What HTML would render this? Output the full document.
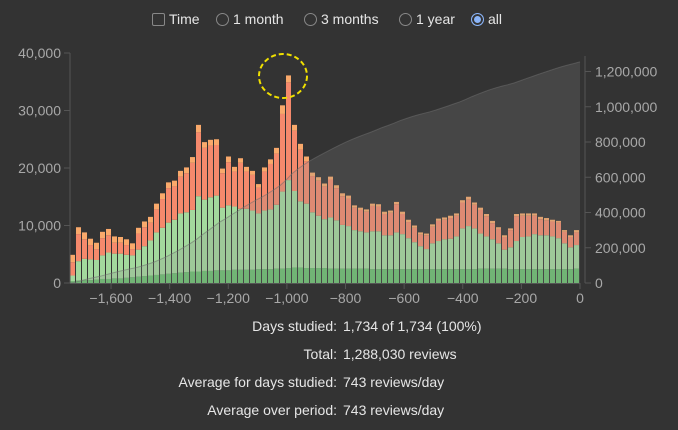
<!DOCTYPE html>
<html><head><meta charset="utf-8"><style>
body{margin:0;background:#333;width:678px;height:430px;overflow:hidden;font-family:"Liberation Sans",sans-serif;color:#e6e6e6}
.ctl{position:absolute;top:10px;font-size:14px;height:18px;line-height:18px}
.box{position:absolute;width:11px;height:11px;border:1px solid #888;border-radius:2px;top:3px}
.rad{position:absolute;width:11px;height:11px;border:1px solid #888;border-radius:50%;top:3px}
.stat{position:absolute;font-size:14px;white-space:nowrap}
</style></head><body>
<div class="ctl" style="left:152px"><span class="box" style="left:0"></span><span style="margin-left:17px">Time</span></div>
<div class="ctl" style="left:216px"><span class="rad" style="left:0"></span><span style="margin-left:17px">1 month</span></div>
<div class="ctl" style="left:304px"><span class="rad" style="left:0"></span><span style="margin-left:17px">3 months</span></div>
<div class="ctl" style="left:399px"><span class="rad" style="left:0"></span><span style="margin-left:17px">1 year</span></div>
<div class="ctl" style="left:471px"><span class="rad" style="left:0;background:#8ab4f8;border-color:#8ab4f8;box-shadow:inset 0 0 0 2px #333"></span><span style="margin-left:17px">all</span></div>
<svg id="chart" width="678" height="310" style="position:absolute;left:0;top:0"></svg>
<div>
<div class="stat" style="top:318px;right:341px">Days studied:</div><div class="stat" style="top:318px;left:343px">1,734 of 1,734 (100%)</div>
<div class="stat" style="top:346px;right:341px">Total:</div><div class="stat" style="top:346px;left:343px">1,288,030 reviews</div>
<div class="stat" style="top:374px;right:341px">Average for days studied:</div><div class="stat" style="top:374px;left:343px">743 reviews/day</div>
<div class="stat" style="top:402px;right:341px">Average over period:</div><div class="stat" style="top:402px;left:343px">743 reviews/day</div>
</div>
<script>
const totals=[4.9,9.7,8.8,7.7,7,8.9,9.4,8.1,8,7.6,6.9,9.6,10.7,11.5,13.8,15.6,17.5,17.8,19.5,20.1,21.9,27.5,24.5,24.9,25,19.9,22,20.2,21.7,20.2,19.5,17.2,20.1,21.5,23.5,30.9,36.1,27.5,24.2,22,19.2,18.4,17.3,18.5,17,15.6,15.2,13.5,13.1,12.8,13.8,13.7,12.4,12.6,14.1,12.4,11,10,8.8,8.6,10.2,11.2,11.4,11.7,12.1,14.4,15,14,13.1,12,10.8,9.7,8.3,9.5,12,12.1,12.1,12.1,11.5,11.3,11,10.8,9.2,8.3,9.2];
const greens=[1.3,3.8,4.2,4.1,4,4.8,5.3,5.1,5.1,4.9,4.8,5.8,6.4,7.4,8.8,9.6,10.5,11,12.1,12.3,12.7,15.1,14.5,14.9,15.2,13.1,13.5,13.3,12.9,12.9,12.6,12.1,12.6,12.8,13.6,15.9,17.9,16,14.2,13.8,12.3,11.7,11.1,11.4,10.9,10.1,9.9,9.2,9,8.8,9,9,8.3,8.3,8.8,8.5,7.8,7.1,6.4,5.9,6.9,7.3,7.6,7.7,8.1,9.5,9.9,9.5,8.6,8.1,7.6,6.9,5.8,6.2,7.3,8,8.1,8.5,8.3,8.3,8.1,7.8,6.9,6.2,6.6];
const matures=[0.3,0.4,0.5,0.5,0.6,0.7,0.7,0.8,0.8,0.9,1,1.1,1.2,1.3,1.4,1.5,1.6,1.7,1.8,1.9,2,2,2.1,2.1,2.2,2.2,2.2,2.3,2.3,2.3,2.3,2.4,2.4,2.4,2.5,2.5,2.6,2.7,2.7,2.6,2.6,2.6,2.6,2.5,2.5,2.5,2.5,2.5,2.5,2.5,2.4,2.4,2.4,2.4,2.4,2.4,2.4,2.4,2.4,2.4,2.4,2.4,2.4,2.4,2.4,2.4,2.4,2.4,2.5,2.5,2.5,2.5,2.5,2.4,2.4,2.4,2.4,2.4,2.4,2.4,2.4,2.4,2.4,2.4,2.5];
const learns=[1.3,1.2,1.2,1.1,1.1,1.1,1.1,1.1,1,1,1,1,1,1,1,1,1,1,1,1,1,1.3,1,1,1,0.8,1,0.8,0.8,0.8,0.7,0.6,0.7,0.8,1,1.5,1.2,1,1,0.8,0.6,0.6,0.5,0.5,0.5,0.5,0.5,0.4,0.4,0.4,0.4,0.4,0.4,0.4,0.4,0.4,0.4,0.4,0.4,0.3,0.4,0.4,0.4,0.4,0.4,0.4,0.5,0.4,0.4,0.4,0.4,0.3,0.3,0.3,0.4,0.4,0.4,0.4,0.4,0.4,0.3,0.3,0.3,0.3,0.4];
const leftTicks=[0,10000,20000,30000,40000];
const rightTicks=[0,200000,400000,600000,800000,1000000,1200000];
const xTicks=[-1600,-1400,-1200,-1000,-800,-600,-400,-200,0];
const dayStart=-1740, dayEnd=0;
const NS="http://www.w3.org/2000/svg";
const svg=document.getElementById('chart');
const X=d=>70+(d-dayStart)/(dayEnd-dayStart)*510;
const Y=v=>283-v/40000*230;
const Y2=v=>283-v/1200000*211.5;
const fmt=n=>n.toLocaleString('en-US').replace('-','\u2212');
function mk(t,a){const e=document.createElementNS(NS,t);for(const k in a)e.setAttribute(k,a[k]);svg.appendChild(e);return e;}
const n=totals.length, bw=(dayEnd-dayStart)/n;
const cols=['#6abf6f','#a3d99d','#f5896c','#f9a96b'];
for(let i=0;i<n;i++){
  const x0=X(dayStart+i*bw), w=X(dayStart+(i+1)*bw)-x0-1;
  const m=matures[i]*1000, g=greens[i]*1000, t=totals[i]*1000, l=learns[i]*1000;
  const segs=[[0,m],[m,g],[g,t-l],[t-l,t]];
  segs.forEach((s,j)=>{
    const r=mk('rect',{x:x0,y:Y(s[1]),width:w,height:Math.max(0,Y(s[0])-Y(s[1])),fill:cols[j]});
    
    
  });
}
let cum=0, pts=[[X(dayStart),Y2(0)]];
for(let i=0;i<n;i++){cum+=totals[i]*1000;pts.push([X(dayStart+(i+1)*bw),Y2(cum)]);}
const line='M'+pts.map(p=>p[0].toFixed(1)+','+p[1].toFixed(1)).join('L');
const area=mk('path',{d:line+'L'+X(dayEnd)+','+Y2(0)+'Z',fill:'rgba(140,140,140,0.22)'});


const ln=mk('path',{d:line,fill:'none',stroke:'rgba(110,110,110,0.55)','stroke-width':1});


const hl=mk('ellipse',{cx:283,cy:76,rx:24,ry:22,fill:'none',stroke:'#f0e000','stroke-width':2,'stroke-dasharray':'5,3'});


mk('line',{x1:70,y1:53,x2:70,y2:283,stroke:'#555'});
mk('line',{x1:585,y1:56,x2:585,y2:283,stroke:'#555'});
mk('line',{x1:70,y1:283.5,x2:580,y2:283.5,stroke:'#555'});
leftTicks.forEach(v=>{
  mk('line',{x1:64,x2:70,y1:Y(v),y2:Y(v),stroke:'#555'});
  const t=mk('text',{x:61,y:Y(v)+5,'text-anchor':'end','font-size':14,fill:'#a8a8a8','font-family':'Liberation Sans'});
  t.textContent=fmt(v);
  
  
});
rightTicks.forEach(v=>{
  mk('line',{x1:585,x2:591,y1:Y2(v),y2:Y2(v),stroke:'#555'});
  const t=mk('text',{x:595,y:Y2(v)+5,'font-size':14,fill:'#a8a8a8','font-family':'Liberation Sans'});
  t.textContent=fmt(v);
  
  
});
xTicks.forEach(v=>{
  mk('line',{x1:X(v),x2:X(v),y1:283,y2:289,stroke:'#555'});
  const t=mk('text',{x:X(v),y:303,'text-anchor':'middle','font-size':14,fill:'#a8a8a8','font-family':'Liberation Sans'});
  t.textContent=fmt(v);
  
  
});
</script>
</body></html>
